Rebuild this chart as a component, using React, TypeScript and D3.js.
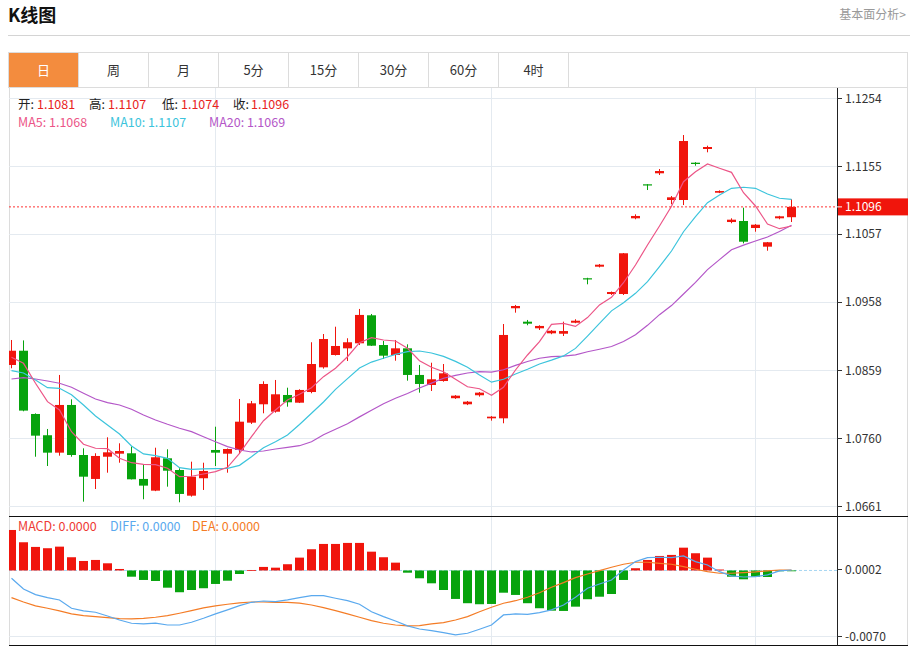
import React from 'react';
import * as d3 from 'd3';

// daily candles, oldest first
const opens = [
  1.08663, 1.08870, 1.07951, 1.07642, 1.07389, 1.08082, 1.07355, 1.07007, 1.07330, 1.07374,
  1.07380, 1.07007, 1.06837, 1.07307, 1.07137, 1.06764, 1.07017, 1.07428, 1.07374, 1.07428,
  1.07825, 1.08092, 1.07984, 1.08227, 1.08115, 1.08270, 1.08629, 1.08808, 1.08905, 1.08978,
  1.09385, 1.08953, 1.08808, 1.08905, 1.08518, 1.08372, 1.08430, 1.08180, 1.08092, 1.08223,
  1.07888, 1.07888, 1.09487, 1.09292, 1.09196, 1.09123, 1.09117, 1.09277, 1.09923, 1.10091,
  1.09694, 1.09694, 1.10794, 1.11288, 1.11448, 1.11060, 1.11060, 1.11602, 1.11801, 1.11166,
  1.10740, 1.10755, 1.10653, 1.10382, 1.10794, 1.10810,
];
const highs = [
  1.09026, 1.09020, 1.07960, 1.07733, 1.08518, 1.08164, 1.07452, 1.07380, 1.07612, 1.07525,
  1.07480, 1.07210, 1.07461, 1.07438, 1.07162, 1.07258, 1.07243, 1.07766, 1.07450, 1.08169,
  1.08140, 1.08426, 1.08445, 1.08333, 1.08310, 1.08993, 1.09113, 1.09219, 1.09051, 1.09477,
  1.09404, 1.09011, 1.09026, 1.08963, 1.08663, 1.08696, 1.08677, 1.08225, 1.08140, 1.08270,
  1.07920, 1.09258, 1.09535, 1.09317, 1.09240, 1.09170, 1.09292, 1.09327, 1.09930, 1.10130,
  1.09730, 1.10290, 1.10852, 1.11290, 1.11510, 1.11118, 1.12004, 1.11610, 1.11849, 1.11200,
  1.10794, 1.10948, 1.10710, 1.10450, 1.10830, 1.11070,
];
const lows = [
  1.08615, 1.07990, 1.07330, 1.07195, 1.07345, 1.07330, 1.06677, 1.06861, 1.07098, 1.07243,
  1.07000, 1.06712, 1.06830, 1.06895, 1.06668, 1.06750, 1.06847, 1.07195, 1.07098, 1.07370,
  1.07806, 1.07961, 1.07970, 1.08057, 1.08110, 1.08252, 1.08610, 1.08800, 1.08721, 1.08953,
  1.08940, 1.08750, 1.08725, 1.08435, 1.08261, 1.08285, 1.08420, 1.08170, 1.08080, 1.08203,
  1.07854, 1.07816, 1.09423, 1.09240, 1.09171, 1.09110, 1.09084, 1.09270, 1.09835, 1.10080,
  1.09680, 1.09680, 1.10780, 1.11205, 1.11423, 1.10998, 1.10987, 1.11558, 1.11753, 1.11160,
  1.10722, 1.10430, 1.10599, 1.10323, 1.10780, 1.10740,
];
const closes = [
  1.08870, 1.08000, 1.07636, 1.07389, 1.08082, 1.07355, 1.07040, 1.07341, 1.07394, 1.07413,
  1.07002, 1.06910, 1.07322, 1.07127, 1.06789, 1.07040, 1.07123, 1.07389, 1.07442, 1.07839,
  1.08106, 1.08387, 1.08237, 1.08121, 1.08300, 1.08677, 1.09040, 1.08939, 1.08993, 1.09390,
  1.08943, 1.08798, 1.08905, 1.08518, 1.08387, 1.08455, 1.08542, 1.08217, 1.08130, 1.08261,
  1.07912, 1.09099, 1.09520, 1.09263, 1.09230, 1.09160, 1.09156, 1.09306, 1.09908, 1.10120,
  1.09723, 1.10286, 1.10828, 1.11274, 1.11481, 1.11099, 1.11917, 1.11583, 1.11830, 1.11190,
  1.10774, 1.10454, 1.10701, 1.10446, 1.10823, 1.10960,
];

const ma5 = [
  1.08775, 1.08687, 1.08397, 1.08130, 1.08009, 1.07694, 1.07511, 1.07453, 1.07447, 1.07307,
  1.07243, 1.07220, 1.07214, 1.07162, 1.07040, 1.07046, 1.07079, 1.07113, 1.07176, 1.07380,
  1.07621, 1.07853, 1.08009, 1.08154, 1.08237, 1.08333, 1.08493, 1.08615, 1.08783, 1.08987,
  1.09059, 1.09026, 1.09011, 1.08905, 1.08725, 1.08629, 1.08565, 1.08455, 1.08347, 1.08318,
  1.08223, 1.08339, 1.08590, 1.08808, 1.09001, 1.09254, 1.09266, 1.09223, 1.09352, 1.09535,
  1.09646, 1.09858, 1.10116, 1.10406, 1.10682, 1.10970, 1.11326, 1.11471, 1.11583, 1.11521,
  1.11462, 1.11166, 1.10973, 1.10711, 1.10643, 1.10682,
];
const ma10 = [
  1.08580, 1.08547, 1.08445, 1.08333, 1.08324, 1.08231, 1.08082, 1.07922, 1.07791, 1.07660,
  1.07486, 1.07370, 1.07345, 1.07307, 1.07171, 1.07147, 1.07152, 1.07156, 1.07162, 1.07205,
  1.07330, 1.07461, 1.07548, 1.07646, 1.07798, 1.07961, 1.08125, 1.08308, 1.08464, 1.08619,
  1.08705, 1.08760, 1.08818, 1.08856, 1.08866, 1.08837, 1.08787, 1.08715, 1.08629, 1.08516,
  1.08413, 1.08455, 1.08532, 1.08600, 1.08677, 1.08733, 1.08795, 1.08904, 1.09082, 1.09267,
  1.09449, 1.09568, 1.09704, 1.09873, 1.10091, 1.10319, 1.10599, 1.10817, 1.11021, 1.11133,
  1.11230, 1.11245, 1.11230, 1.11147, 1.11085, 1.11068,
];
const ma20 = [
  1.08459, 1.08478, 1.08459, 1.08430, 1.08397, 1.08339, 1.08252, 1.08169, 1.08115, 1.08082,
  1.08019, 1.07936, 1.07864, 1.07801, 1.07743, 1.07694, 1.07621, 1.07548, 1.07476, 1.07428,
  1.07399, 1.07413, 1.07442, 1.07467, 1.07490, 1.07548, 1.07650, 1.07730, 1.07810, 1.07909,
  1.08006, 1.08100, 1.08179, 1.08249, 1.08329, 1.08399, 1.08470, 1.08512, 1.08546, 1.08567,
  1.08558, 1.08593, 1.08657, 1.08714, 1.08761, 1.08785, 1.08791, 1.08809, 1.08855, 1.08892,
  1.08931, 1.09005, 1.09101, 1.09239, 1.09394, 1.09526, 1.09695, 1.09863, 1.10048, 1.10194,
  1.10337, 1.10405, 1.10464, 1.10523, 1.10603, 1.10693,
];

const macdBars = [
  0.00435, 0.00303, 0.00253, 0.00239, 0.00256, 0.00142, 0.00102, 0.00113, 0.00077, 0.00016,
  -0.00067, -0.00102, -0.00113, -0.00185, -0.00234, -0.00210, -0.00191, -0.00145, -0.00110, -0.00038,
  0.00005, 0.00038, 0.00030, 0.00067, 0.00138, 0.00228, 0.00285, 0.00285, 0.00296, 0.00296,
  0.00202, 0.00142, 0.00084, -0.00024, -0.00084, -0.00138, -0.00210, -0.00306, -0.00352, -0.00363,
  -0.00360, -0.00239, -0.00263, -0.00352, -0.00406, -0.00432, -0.00435, -0.00389, -0.00309, -0.00282,
  -0.00253, -0.00102, 0.00024, 0.00113, 0.00156, 0.00167, 0.00245, 0.00185, 0.00138, 0.00010,
  -0.00067, -0.00095, -0.00067, -0.00070, -0.00005, -0.00002,
];
const diffLine = [
  -0.00084, -0.00199, -0.00260, -0.00292, -0.00317, -0.00406, -0.00435, -0.00449, -0.00489, -0.00532,
  -0.00567, -0.00575, -0.00567, -0.00586, -0.00586, -0.00557, -0.00514, -0.00467, -0.00424, -0.00378,
  -0.00342, -0.00328, -0.00335, -0.00317, -0.00292, -0.00271, -0.00271, -0.00299, -0.00325, -0.00363,
  -0.00443, -0.00496, -0.00543, -0.00596, -0.00629, -0.00647, -0.00668, -0.00693, -0.00675, -0.00632,
  -0.00586, -0.00478, -0.00467, -0.00471, -0.00453, -0.00424, -0.00371, -0.00288, -0.00191, -0.00145,
  -0.00102, 0.00005, 0.00095, 0.00138, 0.00142, 0.00138, 0.00156, 0.00095, 0.00059, -0.00013,
  -0.00059, -0.00070, -0.00067, -0.00048, -0.00005, 0.00005,
];
const deaLine = [
  -0.00292, -0.00339, -0.00381, -0.00406, -0.00435, -0.00467, -0.00486, -0.00496, -0.00507, -0.00518,
  -0.00521, -0.00514, -0.00503, -0.00486, -0.00460, -0.00432, -0.00403, -0.00381, -0.00363, -0.00349,
  -0.00339, -0.00339, -0.00342, -0.00342, -0.00352, -0.00371, -0.00400, -0.00432, -0.00467, -0.00503,
  -0.00539, -0.00567, -0.00586, -0.00596, -0.00593, -0.00575, -0.00561, -0.00532, -0.00496, -0.00443,
  -0.00395, -0.00352, -0.00325, -0.00288, -0.00239, -0.00181, -0.00131, -0.00077, -0.00038, -0.00002,
  0.00034, 0.00067, 0.00088, 0.00088, 0.00077, 0.00067, 0.00041, 0.00013, -0.00013, -0.00030,
  -0.00030, -0.00024, -0.00016, -0.00005, 0.00005, 0.00005,
];

const priceTicks = [1.0661, 1.0760, 1.0859, 1.0958, 1.1057, 1.1155, 1.1254];
const macdTicks = [0.0002, -0.0070];
const tabs = ['日', '周', '月', '5分', '15分', '30分', '60分', '4时'];
const gridIdx = [17, 40, 62]; // candles where the vertical grid falls
const macdLegend = ['MACD: 0.0000', 'DIFF: 0.0000', 'DEA: 0.0000'];

const FONT = '"Noto Sans CJK SC", "Noto Sans", sans-serif';
const UP = '#f0150c';
const DOWN = '#07a30d';
const GRID = '#e4eaf0';
const C5 = '#ec5587';
const C10 = '#3cc4dc';
const C20 = '#b457c8';
const CDIFF = '#5aa9ee';
const CDEA = '#f47c26';

const App: React.FC = () => {
  const left = 9, axisX = 837, right = 907;
  const mainTop = 88, mainBottom = 516, macdBottom = 646;
  const n = closes.length;
  const last = n - 1;

  const x = d3.scaleLinear().domain([0, n - 1]).range([11.5, 791.5]);
  const y = d3.scaleLinear().domain([1.06614, 1.12542]).range([506, 98]);
  const ym = d3.scaleLinear().domain([-0.007, 0.0002]).range([635.6, 568.6]);

  const priceLine = d3.line<number>().x((_, i) => x(i)).y(d => y(d));
  const macdLine = d3.line<number>().x((_, i) => x(i)).y(d => ym(d));

  const legend1 = [
    { label: '开:', value: opens[last], lx: 18, vx: 37 },
    { label: '高:', value: highs[last], lx: 89, vx: 108 },
    { label: '低:', value: lows[last], lx: 162, vx: 181 },
    { label: '收:', value: closes[last], lx: 233, vx: 251 },
  ];
  const legend2 = [
    { text: `MA5: ${ma5[last].toFixed(4)}`, color: C5, x: 18 },
    { text: `MA10: ${ma10[last].toFixed(4)}`, color: C10, x: 110 },
    { text: `MA20: ${ma20[last].toFixed(4)}`, color: C20, x: 209 },
  ];
  const lastY = y(closes[last]);

  return (
    <svg width={910} height={648}
      style={{ position: 'absolute', left: 0, top: 0, fontFamily: FONT, background: '#fff' }}>
      <defs>
        <clipPath id="mainClip"><rect x={left} y={mainTop} width={axisX - left} height={mainBottom - mainTop} /></clipPath>
        <clipPath id="macdClip"><rect x={left} y={mainBottom + 1} width={axisX - left} height={macdBottom - mainBottom - 1} /></clipPath>
      </defs>

      {/* header */}
      <text x={8} y={22} fontSize={18} fontWeight="bold" fill="#111">K线图</text>
      <text x={906} y={19} fontSize={12} fill="#999" textAnchor="end">基本面分析&gt;</text>
      <line x1={8} x2={910} y1={35.5} y2={35.5} stroke="#d4d4d4" />

      {/* period tabs */}
      <rect x={8.5} y={52.5} width={899} height={35} fill="#fff" stroke="#dcdcdc" />
      <rect x={9} y={53} width={69} height={34} fill="#f38c3e" />
      {tabs.map((t, i) => (
        <g key={t}>
          <line x1={78.5 + 70 * i} x2={78.5 + 70 * i} y1={53} y2={87} stroke="#dcdcdc" />
          <text x={43.5 + 70 * i} y={74.5} fontSize={13} textAnchor="middle" fill={i === 0 ? '#fff' : '#333'}>{t}</text>
        </g>
      ))}

      {/* frame */}
      <line x1={left + 0.5} x2={left + 0.5} y1={mainTop} y2={macdBottom} stroke="#dcdcdc" />
      <line x1={right + 0.5} x2={right + 0.5} y1={mainTop} y2={macdBottom} stroke="#dcdcdc" />

      {/* grid */}
      {priceTicks.map(t => (
        <line key={t} x1={left} x2={axisX} y1={Math.round(y(t)) + 0.5} y2={Math.round(y(t)) + 0.5} stroke={GRID} />
      ))}
      {gridIdx.map(i => (
        <line key={i} x1={x(i)} x2={x(i)} y1={mainTop} y2={macdBottom} stroke={GRID} />
      ))}
      {macdTicks.filter(t => Math.abs(t) > 0.001).map(t => (
        <line key={t} x1={left} x2={axisX} y1={Math.round(ym(t)) + 0.5} y2={Math.round(ym(t)) + 0.5} stroke={GRID} />
      ))}

      {/* candles */}
      <g clipPath="url(#mainClip)">
        {closes.map((c, i) => {
          const o = opens[i];
          const col = c >= o ? UP : DOWN;
          const top = y(Math.max(o, c));
          const bot = y(Math.min(o, c));
          return (
            <g key={i}>
              <line x1={x(i)} x2={x(i)} y1={y(highs[i])} y2={y(lows[i])} stroke={col} />
              <rect x={x(i) - 4.5} y={top} width={9} height={Math.max(1.2, bot - top)} fill={col} />
            </g>
          );
        })}
        <path d={priceLine(ma20) || ''} fill="none" stroke={C20} strokeWidth={1.2} />
        <path d={priceLine(ma10) || ''} fill="none" stroke={C10} strokeWidth={1.2} />
        <path d={priceLine(ma5) || ''} fill="none" stroke={C5} strokeWidth={1.2} />
        <line x1={left} x2={axisX} y1={lastY} y2={lastY} stroke="#f33" strokeDasharray="2,2" />
      </g>

      {/* main legend */}
      {legend1.map(d => (
        <g key={d.label} fontSize={12.5}>
          <text x={d.lx} y={109} fill="#222">{d.label}</text>
          <text x={d.vx} y={109} fill="#e8231d">{d.value.toFixed(4)}</text>
        </g>
      ))}
      {legend2.map(d => (
        <text key={d.text} x={d.x} y={127} fontSize={12.5} fill={d.color}>{d.text}</text>
      ))}

      {/* MACD */}
      <g clipPath="url(#macdClip)">
        <line x1={left} x2={axisX} y1={ym(0)} y2={ym(0)} stroke="#a6d6f2" strokeDasharray="3,2" />
        {macdBars.map((v, i) => {
          const y0 = ym(0), y1 = ym(v);
          return (
            <rect key={i} x={x(i) - 4.5} y={Math.min(y0, y1)} width={9}
              height={Math.max(0.8, Math.abs(y1 - y0))} fill={v >= 0 ? UP : DOWN} />
          );
        })}
        <path d={macdLine(deaLine) || ''} fill="none" stroke={CDEA} strokeWidth={1.2} />
        <path d={macdLine(diffLine) || ''} fill="none" stroke={CDIFF} strokeWidth={1.2} />
      </g>
      <text x={18} y={531} fontSize={12.5}>
        <tspan fill="#ee3b35">{macdLegend[0]}</tspan>
        <tspan x={110} fill={CDIFF}>{macdLegend[1]}</tspan>
        <tspan x={192} fill={CDEA}>{macdLegend[2]}</tspan>
      </text>

      {/* panel separators */}
      <line x1={left} x2={right + 1} y1={mainBottom + 0.5} y2={mainBottom + 0.5} stroke="#111" />
      <line x1={left} x2={right + 1} y1={macdBottom - 0.5} y2={macdBottom - 0.5} stroke="#111" />

      {/* right axis */}
      <line x1={axisX + 0.5} x2={axisX + 0.5} y1={mainTop} y2={macdBottom} stroke="#222" />
      {priceTicks.map(t => (
        <g key={t}>
          <line x1={axisX} x2={axisX + 5} y1={Math.round(y(t)) + 0.5} y2={Math.round(y(t)) + 0.5} stroke="#333" />
          <text x={845} y={y(t) + 4.5} fontSize={12} fill="#333">{t.toFixed(4)}</text>
        </g>
      ))}
      {macdTicks.map(t => (
        <g key={t}>
          <line x1={axisX} x2={axisX + 5} y1={Math.round(ym(t)) + 0.5} y2={Math.round(ym(t)) + 0.5} stroke="#333" />
          <text x={845} y={ym(t) + 5} fontSize={12} fill="#333">{t.toFixed(4)}</text>
        </g>
      ))}
      <rect x={axisX + 1} y={lastY - 8.5} width={right - axisX} height={17} fill={UP} />
      <line x1={axisX} x2={axisX + 5} y1={lastY} y2={lastY} stroke="#fff" />
      <text x={845} y={lastY + 4.5} fontSize={12} fill="#fff">{closes[last].toFixed(4)}</text>
    </svg>
  );
};

export default App;
